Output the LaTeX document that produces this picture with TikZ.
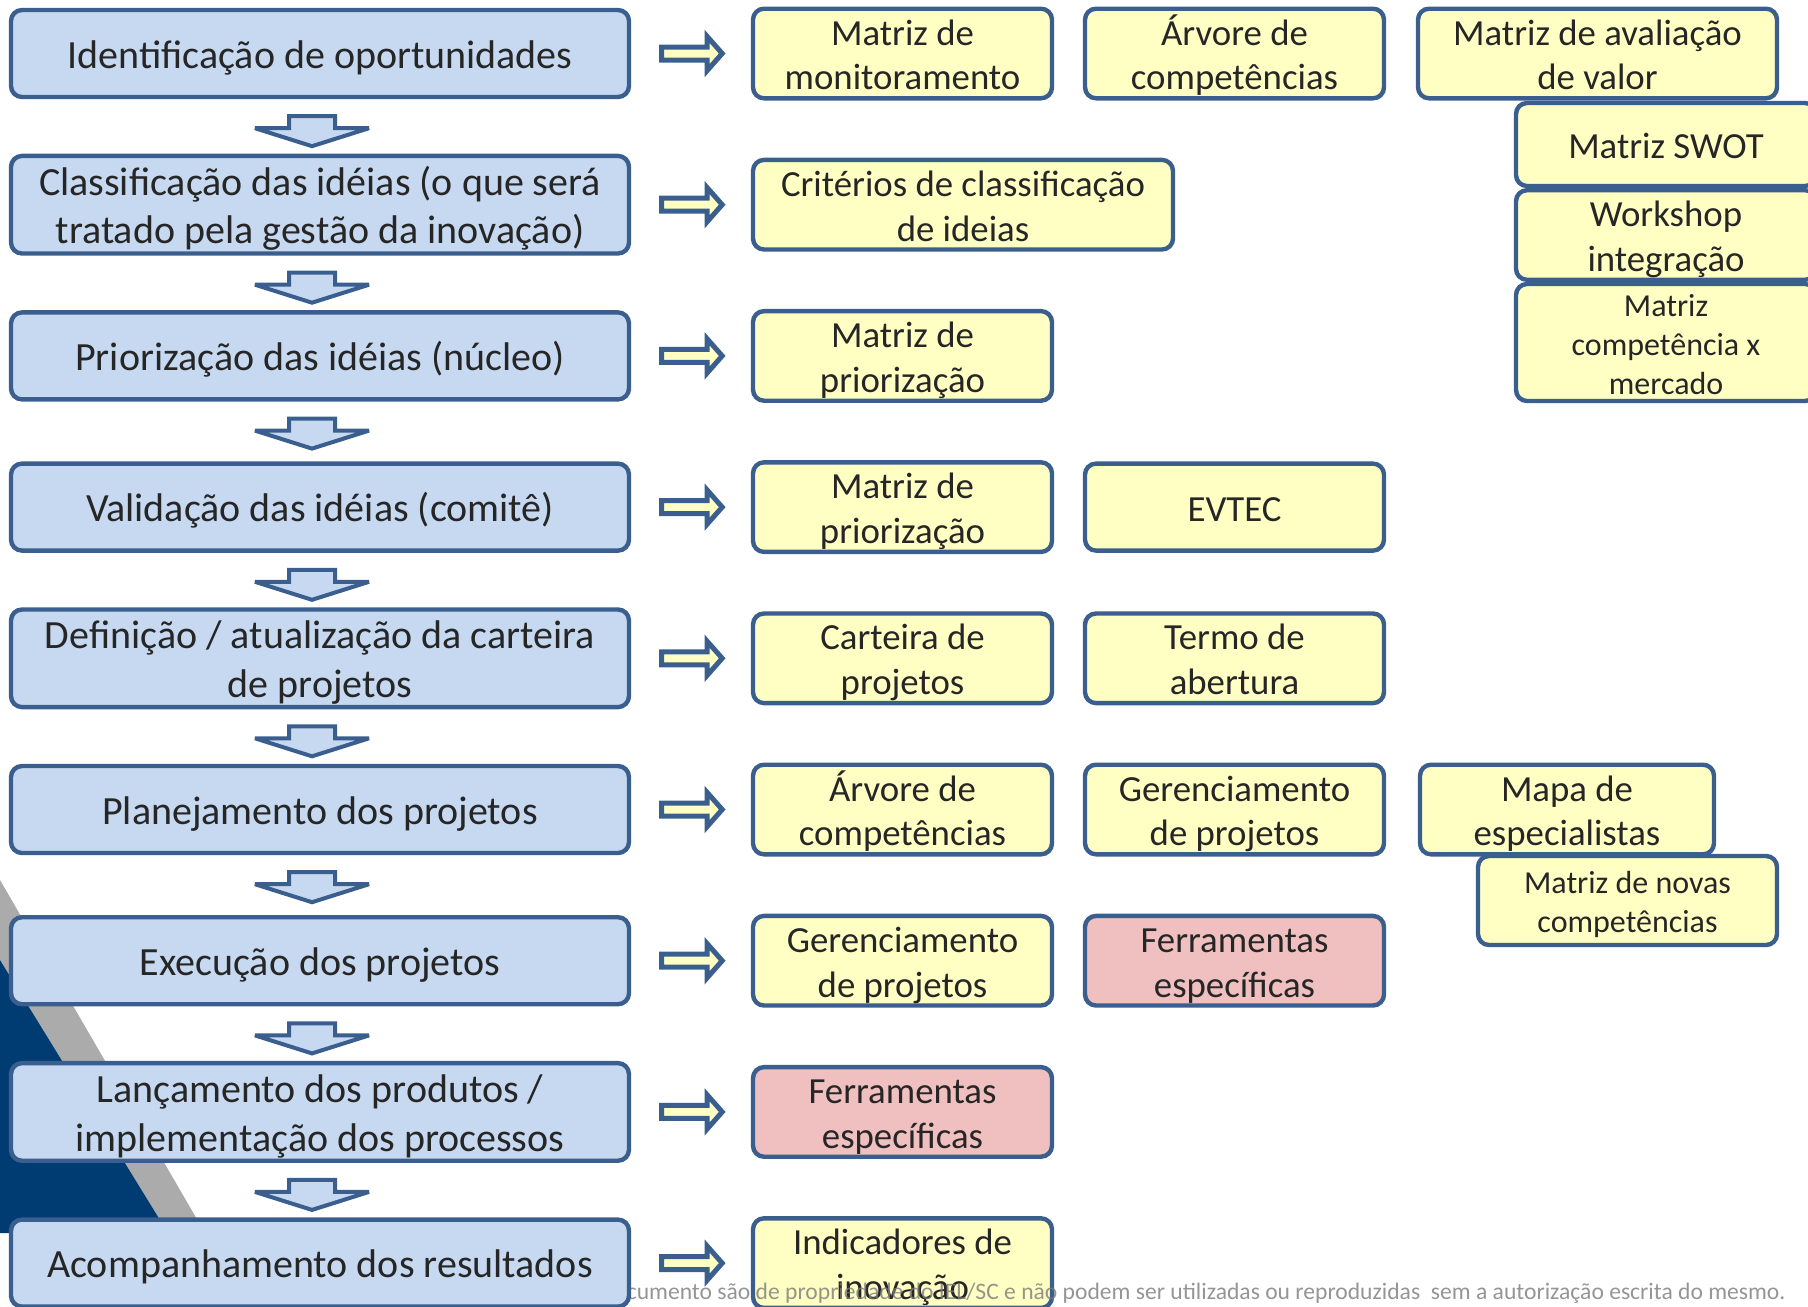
\documentclass[tikz,border=0pt]{standalone}
\usepackage{fontspec}
\setmainfont{Carlito}
\usetikzlibrary{calc}

\definecolor{edge}{HTML}{3A5F8E}
\definecolor{stagefill}{HTML}{C6D9F1}
\definecolor{toolfill}{HTML}{FFFFC4}
\definecolor{specfill}{HTML}{EFC0BF}
\definecolor{txt}{HTML}{262626}
\definecolor{navy}{HTML}{003C71}
\definecolor{band}{HTML}{ABABAB}
\definecolor{footgray}{HTML}{7A7A7A}

% centred block of lines on a fixed line grid, set a little low in its box
\newcommand\boxtext[1]{\raisebox{-2.5pt}[\height][\depth]{\begin{tabular}{@{}c@{}}#1\end{tabular}}}

% block arrow between two consecutive stages (below the given stage)
\newcommand\flowdown[1]{%
  \draw[downarrow] ($(#1.south)+(-31,17)$) -- ($(#1.south)+(15,17)$)
    -- ($(#1.south)+(15,29)$) -- ($(#1.south)+(49,29)$)
    -- ($(#1.south)+(-8,47)$) -- ($(#1.south)+(-65,29)$)
    -- ($(#1.south)+(-31,29)$) -- cycle;}
% block arrow pointing from a stage to its tools
\newcommand\flowright[1]{%
  \draw[rightarrow] ($(#1.east)+(30.5,-6.5)$) -- ($(#1.east)+(76,-6.5)$)
    -- ($(#1.east)+(76,-17)$) -- ($(#1.east)+(91,0)$)
    -- ($(#1.east)+(76,17)$) -- ($(#1.east)+(76,6.5)$)
    -- ($(#1.east)+(30.5,6.5)$) -- cycle;}

\begin{document}
\begin{tikzpicture}[x=0.5pt,y=-0.5pt,
  box/.style={draw=edge, line width=2.2pt, rounded corners=5.5pt, align=center,
    inner sep=0pt, text=txt},
  stage/.style={box, fill=stagefill, minimum width=309pt, minimum height=43.5pt,
    font=\fontsize{20}{24.4}\selectfont},
  tool/.style={box, fill=toolfill, minimum width=149.5pt, minimum height=43.5pt,
    font=\fontsize{18.4}{22.4}\selectfont},
  special/.style={tool, fill=specfill},
  smalltext/.style={font=\fontsize{16}{19.5}\selectfont},
  downarrow/.style={draw=edge, fill=stagefill, line width=2pt, line join=miter,
    miter limit=4},
  rightarrow/.style={draw=edge, fill=toolfill, line width=2.5pt, line join=miter,
    miter limit=10},
]
\useasboundingbox (0,0) rectangle (1808,1306);

% slide decoration in the lower left corner
\fill[band] (0,880) -- (0,960) -- (168,1233) -- (205,1233) -- cycle;
\fill[navy] (0,960) -- (168,1233) -- (0,1233) -- cycle;

% tools, row by row
\node[tool] (monit) at (902.5,53.5) {\boxtext{Matriz de\\monitoramento}};
\node[tool] (arvA) at (1234.5,53.5) {\boxtext{Árvore de\\competências}};
\node[tool, minimum width=179.5pt] (avalia) at (1597.5,53.5) {\boxtext{Matriz de avaliação\\de valor}};
\node[tool, minimum width=150pt, minimum height=41.5pt] (swot) at (1666,144.5) {\boxtext{Matriz SWOT}};
\node[tool, minimum width=150pt, minimum height=42pt] (workshop) at (1666,235) {\boxtext{Workshop\\integração}};
\node[tool, smalltext, minimum width=150pt, minimum height=57.5pt] (mcomp) at (1666,342.5) {\boxtext{Matriz\\competência x\\mercado}};

\node[tool, minimum width=210pt] (crit) at (963,204.7) {\boxtext{Critérios de classificação\\de ideias}};
\node[tool] (prioA) at (902.5,355.9) {\boxtext{Matriz de\\priorização}};
\node[tool] (prioB) at (902.5,507.1) {\boxtext{Matriz de\\priorização}};
\node[tool] (evtec) at (1234.5,507.1) {\boxtext{EVTEC}};
\node[tool] (carteira) at (902.5,658.3) {\boxtext{Carteira de\\projetos}};
\node[tool] (termo) at (1234.5,658.3) {\boxtext{Termo de\\abertura}};
\node[tool] (arvB) at (902.5,809.5) {\boxtext{Árvore de\\competências}};
\node[tool] (gerA) at (1234.5,809.5) {\boxtext{Gerenciamento\\de projetos}};
\node[tool, minimum width=147pt] (mapa) at (1567,809.5) {\boxtext{Mapa de\\especialistas}};
\node[tool, smalltext, minimum height=44.5pt] (novas) at (1627.5,900.5) {\boxtext{Matriz de novas\\competências}};
\node[tool] (gerB) at (902.5,960.7) {\boxtext{Gerenciamento\\de projetos}};
\node[special] (ferrA) at (1234.5,960.7) {\boxtext{Ferramentas\\específicas}};
\node[special] (ferrB) at (902.5,1111.9) {\boxtext{Ferramentas\\específicas}};
\node[tool] (indic) at (902.5,1263.1) {\boxtext{Indicadores de\\inovação}};

% footer line of the slide
\node[anchor=base east, inner sep=0pt, text=footgray, text opacity=0.8,
  font=\fontsize{11.8}{14}\selectfont] (footer) at (1786,1299)
  {documento são de propriedade do IEL/SC e não podem ser utilizadas ou reproduzidas\ \ sem a autorização escrita do mesmo.};

% process stages
\node[stage] (s1) at (320,53.5) {\boxtext{Identificação de oportunidades}};
\node[stage] (s2) at (320,204.7) {\boxtext{Classificação das idéias (o que será\\tratado pela gestão da inovação)}};
\node[stage] (s3) at (320,355.9) {\boxtext{Priorização das idéias (núcleo)}};
\node[stage] (s4) at (320,507.1) {\boxtext{Validação das idéias (comitê)}};
\node[stage] (s5) at (320,658.3) {\boxtext{Definição / atualização da carteira\\de projetos}};
\node[stage] (s6) at (320,809.5) {\boxtext{Planejamento dos projetos}};
\node[stage] (s7) at (320,960.7) {\boxtext{Execução dos projetos}};
\node[stage] (s8) at (320,1111.9) {\boxtext{Lançamento dos produtos /\\implementação dos processos}};
\node[stage] (s9) at (320,1263.1) {\boxtext{Acompanhamento dos resultados}};

% arrows between stages
\foreach \s in {s1,s2,s3,s4,s5,s6,s7,s8} {\flowdown{\s}}
% arrows from stages to tools
\foreach \s in {s1,s2,s3,s4,s5,s6,s7,s8,s9} {\flowright{\s}}
\end{tikzpicture}
\end{document}
